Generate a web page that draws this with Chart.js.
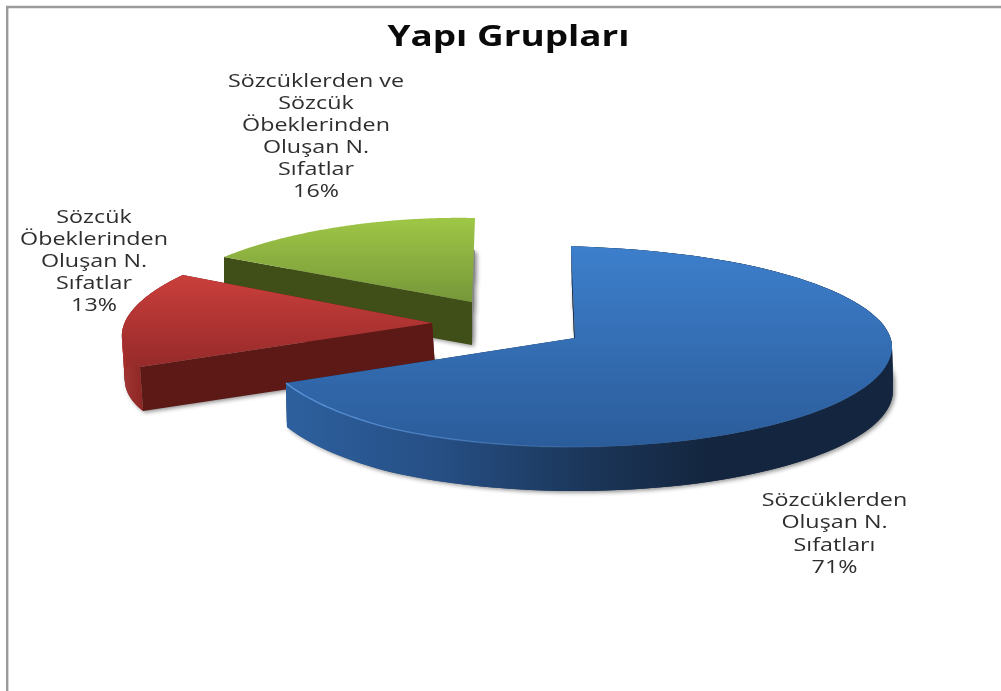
<!DOCTYPE html>
<html><head><meta charset="utf-8">
<style>html,body{margin:0;padding:0;background:#fff}canvas{display:block}</style>
<script src="https://cdn.jsdelivr.net/npm/chart.js@4"></script>
</head><body>
<div style="width:1001px;height:691px"><canvas id="c"></canvas></div>
<script>
const chartTitle = "Yapı Grupları";
const categories = ["Sözcüklerden Oluşan N. Sıfatları","Sözcük Öbeklerinden Oluşan N. Sıfatlar","Sözcüklerden ve Sözcük Öbeklerinden Oluşan N. Sıfatlar"];
const values = [71, 13, 16];
const labelLines = [
  ["Sözcüklerden","Oluşan N.","Sıfatları"],
  ["Sözcük","Öbeklerinden","Oluşan N.","Sıfatlar"],
  ["Sözcüklerden ve","Sözcük","Öbeklerinden","Oluşan N.","Sıfatlar"]
];

/* Styling / placement only: where each extruded slice lands on the page */
const placement = [
  {apex:[575,338],start:[571,246],end:[286,383],ellipse:[575,346.5,317,100.5],phiSpan:246.2,bump:3,depth:[1,44],
   top:["#3d7fcc","#2b5c9a"],topY:[246,447],wall:"#14263f",endWall:true,ribbon:true,
   rimStops:[[0,"#2d609e"],[0.25,"#264f85"],[0.5,"#1b3659"],[0.7,"#14263f"],[1,"#14263f"]],rimX:[287,888]},
  {apex:[432,323],start:[140,367],end:[183,275],mid:[125,322],midFrac:0.5,depth:[3,44],
   top:["#ca3f3b","#962a2a"],topY:[275,367],wall:"#5c1916",endWall:true,ribbon:true,
   rimStops:[[0,"#a82e2b"],[1,"#8a2321"]],rimX:[120,145]},
  {apex:[472,302],start:[224,257],end:[475,218],mid:[345,226],midFrac:0.5,depth:[0,43],
   top:["#9fc746","#769739"],topY:[218,302],wall:"#404f18",endWall:false,ribbon:false,
   rimStops:[[0,"#404f18"],[1,"#404f18"]],rimX:[224,475]}
];
const labelPlace = [
  {x:834.5,y:501,lh:22.3},{x:94,y:218,lh:22},{x:316,y:82,lh:22}
];
const labelFont = '17.5px "Open Sans", sans-serif', labelStretch = 1.33;
const titleFont = 'bold 28px "Open Sans", sans-serif', titleStretch = 1.317, titlePos = [508.5,38];

function solveHomography(src,dst){
  const A=[];
  for(let i=0;i<4;i++){
    const [x,y]=src[i],[X,Y]=dst[i];
    A.push([x,y,1,0,0,0,-x*X,-y*X,X]);
    A.push([0,0,0,x,y,1,-x*Y,-y*Y,Y]);
  }
  for(let c=0;c<8;c++){
    let p=c;for(let r=c+1;r<8;r++)if(Math.abs(A[r][c])>Math.abs(A[p][c]))p=r;
    [A[c],A[p]]=[A[p],A[c]];
    for(let r=0;r<8;r++){ if(r===c)continue;
      const f=A[r][c]/A[c][c];
      for(let k=c;k<9;k++)A[r][k]-=f*A[c][k];
    }
  }
  const h=[];for(let i=0;i<8;i++)h.push(A[i][8]/A[i][i]);h.push(1);return h;
}
function project(h,u,v){const w=h[6]*u+h[7]*v+h[8];return [(h[0]*u+h[1]*v+h[2])/w,(h[3]*u+h[4]*v+h[5])/w];}
function onCircle(t){const th=t+Math.PI/2;return [Math.sin(th),Math.cos(th)];}

function trace(ctx,pts,close){ctx.beginPath();pts.forEach((p,i)=>i?ctx.lineTo(p[0],p[1]):ctx.moveTo(p[0],p[1]));if(close)ctx.closePath();}
function shift(pts,d,k=1){return pts.map(p=>[p[0]+d[0]*k,p[1]+d[1]*k]);}

function sliceGeometry(arc,pl){
  const s=arc.startAngle,e=arc.endAngle,n=200,rim=[];
  if(pl.ellipse){
    const [cx,cy,rx,ry]=pl.ellipse,span=pl.phiSpan*Math.PI/180;
    for(let i=0;i<=n;i++){
      const f=i/n,phi=span*f;
      let x=cx+rx*Math.sin(phi),y=cy-ry*Math.cos(phi);
      if(phi<Math.PI/2)y+=pl.bump*Math.pow(Math.max(0,Math.sin(2*phi)),0.6);
      rim.push([x,y]);
    }
    /* ease the ends of the rim on to the slice corners */
    const e0=[pl.start[0]-rim[0][0],pl.start[1]-rim[0][1]],e1=[pl.end[0]-rim[n][0],pl.end[1]-rim[n][1]],w=Math.round(n*0.12);
    for(let i=0;i<=w;i++){
      const k=1-i/w;
      rim[i][0]+=e0[0]*k;rim[i][1]+=e0[1]*k;
      rim[n-i][0]+=e1[0]*k;rim[n-i][1]+=e1[1]*k;
    }
    return {rim,apex:pl.apex};
  }
  const m=s+(e-s)*pl.midFrac;
  const H=solveHomography([[0,0],onCircle(s),onCircle(e),onCircle(m)],[pl.apex,pl.start,pl.end,pl.mid]);
  for(let i=0;i<=n;i++){const c=onCircle(s+(e-s)*i/n);rim.push(project(H,c[0],c[1]));}
  return {rim,apex:pl.apex};
}
function stretchedText(c,t,x,y,sx){c.save();c.translate(x,y);c.scale(sx,1);c.fillText(t,0,0);c.restore();}

const pie3d={
  id:'pie3d',
  beforeDraw(chart){
    const c=chart.ctx;c.save();
    c.fillStyle="#fff";c.fillRect(0,0,chart.width,chart.height);
    c.strokeStyle="#9a9a9a";c.lineWidth=2.4;
    c.beginPath();c.moveTo(7.2,chart.height);c.lineTo(7.2,7);c.lineTo(chart.width,7);c.stroke();
    c.restore();
  },
  beforeDatasetDraw(chart,args){
    const ctx=chart.ctx,arcs=chart.getDatasetMeta(args.index).data;
    for(const i of [2,1,0]){
      const pl=placement[i],g=sliceGeometry(arcs[i],pl),d=pl.depth;
      const topPoly=[g.apex,...g.rim];
      /* cast shadow from the extruded silhouette */
      const off=document.createElement('canvas');off.width=chart.width;off.height=chart.height;
      const o=off.getContext('2d');o.fillStyle="#8a8a8a";
      for(let k=0.75;k<=1.0001;k+=0.03){trace(o,shift(topPoly,d,k),true);o.fill();}
      ctx.save();ctx.shadowColor="rgba(0,0,0,0.45)";ctx.shadowBlur=4;ctx.shadowOffsetX=2;ctx.shadowOffsetY=2;
      ctx.drawImage(off,0,0);ctx.restore();
      /* walls */
      ctx.save();
      const a=g.rim[0],b=g.rim[g.rim.length-1];
      ctx.fillStyle=pl.wall;
      trace(ctx,[g.apex,a,...shift([a,g.apex],d)],true);ctx.fill();
      if(pl.endWall){trace(ctx,[g.apex,b,...shift([b,g.apex],d)],true);ctx.fill();}
      if(pl.ribbon){
        const grad=ctx.createLinearGradient(pl.rimX[0],0,pl.rimX[1],0);
        pl.rimStops.forEach(s=>grad.addColorStop(s[0],s[1]));
        ctx.fillStyle=grad;
        for(let j=0;j<g.rim.length-1;j++){
          const p=g.rim[j],q=g.rim[Math.min(j+2,g.rim.length-1)];
          trace(ctx,[p,q,[q[0]+d[0],q[1]+d[1]],[p[0]+d[0],p[1]+d[1]]],true);ctx.fill();
        }
      }
      /* top face */
      const tg=ctx.createLinearGradient(0,pl.topY[0],0,pl.topY[1]);
      tg.addColorStop(0,pl.top[0]);tg.addColorStop(1,pl.top[1]);
      ctx.fillStyle=tg;trace(ctx,topPoly,true);ctx.fill();
      if(i===0){
        const hl=ctx.createLinearGradient(286,0,640,0);
        hl.addColorStop(0,"rgba(95,155,225,0.9)");hl.addColorStop(1,"rgba(95,155,225,0)");
        ctx.strokeStyle=hl;ctx.lineWidth=1.4;
        trace(ctx,g.rim.slice(100),false);ctx.stroke();
      }
      ctx.restore();
    }
    return false;
  },
  afterDraw(chart){
    const c=chart.ctx;c.save();c.textAlign="center";c.textBaseline="middle";
    c.font=titleFont;c.fillStyle="#0a0a0a";stretchedText(c,chartTitle,titlePos[0],titlePos[1],titleStretch);
    c.font=labelFont;c.fillStyle="#2e2e2e";
    const total=values.reduce((a,b)=>a+b,0);
    values.forEach((v,i)=>{
      const lines=[...labelLines[i],Math.round(v/total*100)+"%"],p=labelPlace[i];
      lines.forEach((t,k)=>stretchedText(c,t,p.x,p.y+k*p.lh,labelStretch));
    });
    c.restore();
  }
};

new Chart(document.getElementById('c'),{
  type:'pie',
  data:{labels:categories,datasets:[{data:values,backgroundColor:["#3670b8","#b53533","#8aae40"],borderWidth:0}]},
  options:{
    responsive:true,maintainAspectRatio:false,animation:false,
    layout:{padding:{top:60}},
    plugins:{legend:{display:false},tooltip:{enabled:false},title:{display:false}}
  },
  plugins:[pie3d]
});
</script>
</body></html>
